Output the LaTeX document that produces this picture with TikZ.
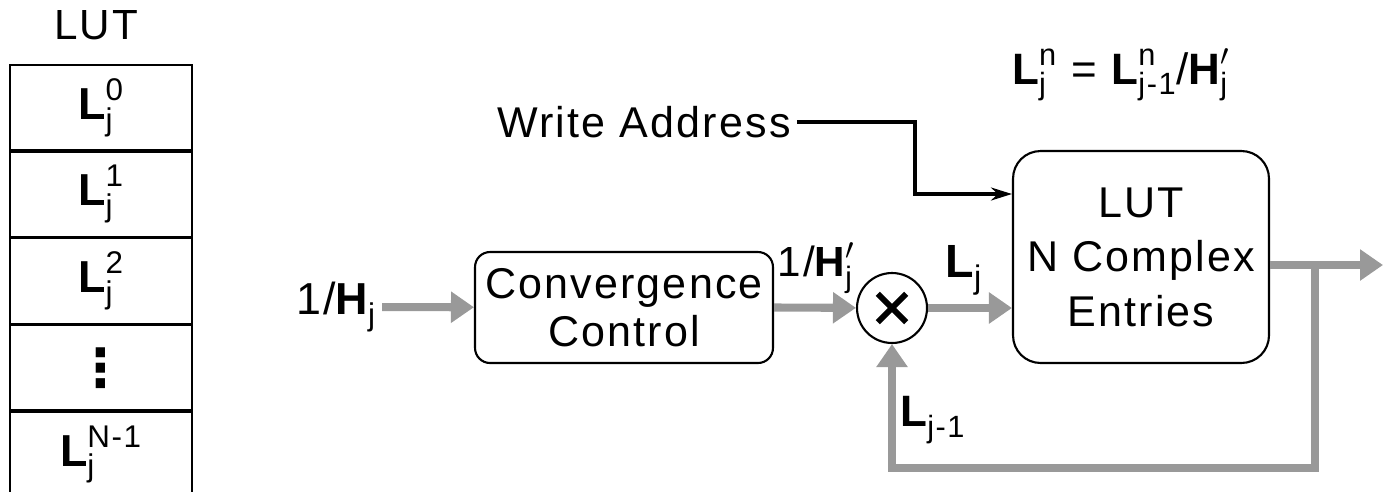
\documentclass[tikz,border=0pt]{standalone}
\usepackage{amsmath}
\usepackage{fontspec}
\setmainfont{Liberation Sans}[LetterSpace=5]
\newfontfamily\dotsfont{DejaVu Sans}
\usetikzlibrary{positioning,arrows.meta}
\definecolor{pipe}{gray}{0.6}

\newcommand{\sym}[3]{$\textbf{#1}^{\text{#2}}_{\text{#3}}$}

\begin{document}
\begin{tikzpicture}[x=0.02cm, y=-0.02cm,
    cell/.style={draw, line width=1pt, minimum width=3.64cm, minimum height=1.7cm, inner sep=0pt, font=\fontsize{25.5}{29}\selectfont},
    block/.style={draw, line width=1.2pt, align=center},
    lbl/.style={font=\fontsize{25}{29}\selectfont},
    flow/.style={draw=pipe, line width=4.6pt, -{Triangle[length=0.46cm, width=0.6cm]}},
    ctrl/.style={line width=1.8pt, -{Stealth[length=0.42cm, width=0.26cm]}}]
    \useasboundingbox (0,0) rectangle (1385,491);

    % the table on the left
    \node[font=\fontsize{24}{28}\selectfont] (T) at (96,25) {LUT};
    \node[cell] (E0) at (101,107.5) {\sym{L}{0}{j}};
    \node[cell] (E1) [below=0pt of E0] {\sym{L}{1}{j}};
    \node[cell] (E2) [below=0pt of E1] {\sym{L}{2}{j}};
    \node[cell, font=\fontsize{30}{34}\dotsfont\bfseries] (E3) [below=0pt of E2] {⋮};
    \node[cell] (E4) [below=0pt of E3] {\sym{L}{N-1}{j}};

    % blocks
    \node[lbl, font=\fontsize{25.5}{29}\selectfont] (IN) at (336,307) {1/\sym{H}{}{j}};
    \node[block, rounded corners=0.3cm, minimum width=5.96cm, minimum height=2.22cm,
          font=\fontsize{24.5}{27}\selectfont] (CC) at (624,307.5) {Convergence\\Control};
    \node[circle, draw, line width=1.2pt, minimum size=1.4cm] (M) at (892,308) {};
    \draw[line width=3.4pt, shorten <=0.32cm, shorten >=0.32cm] (M.45) -- (M.225);
    \draw[line width=3.4pt, shorten <=0.32cm, shorten >=0.32cm] (M.135) -- (M.315);
    \node[block, rounded corners=0.55cm, minimum width=5.12cm, minimum height=4.24cm,
          font=\fontsize{24.5}{31}\selectfont] (LUT) at (1141,257) {LUT\\N Complex\\Entries};
    \node[font=\fontsize{24.5}{29}\selectfont] (WA) at (644,122) {Write Address};
    \node[font=\fontsize{25}{29}\selectfont] (EQ) at (1121,75) {\sym{L}{n}{j} = \sym{L}{n}{j-1}/$\textbf{H}'_{\text{j}}$};

    % labels on the data path
    \node[lbl, font=\fontsize{24}{28}\selectfont] (HL) at (816,268) {1/$\textbf{H}'_{\text{j}}$};
    \node[lbl, font=\fontsize{26.5}{30}\selectfont] (LL) at (964,270) {\sym{L}{}{j}};
    \node[lbl] (PL) at (933,420) {\sym{L}{}{j-1}};

    \coordinate (K) at (915,194);
    \coordinate (J) at (1315,265);
    \coordinate (OUT) at (1383,265);
    \coordinate (FB) at (1315,468);

    % connections
    \draw[flow] (IN) -- (CC);
    \draw[flow] (CC.east) -- (M);
    \draw[flow] (M) -- (M -| LUT.west);
    \draw[flow] (LUT.east |- J) -- (OUT);
    \draw[flow] (J) -- (FB) -| (M.south);
    \draw[ctrl] (WA.east) -| (K) -- (K -| LUT.west);
\end{tikzpicture}
\end{document}
